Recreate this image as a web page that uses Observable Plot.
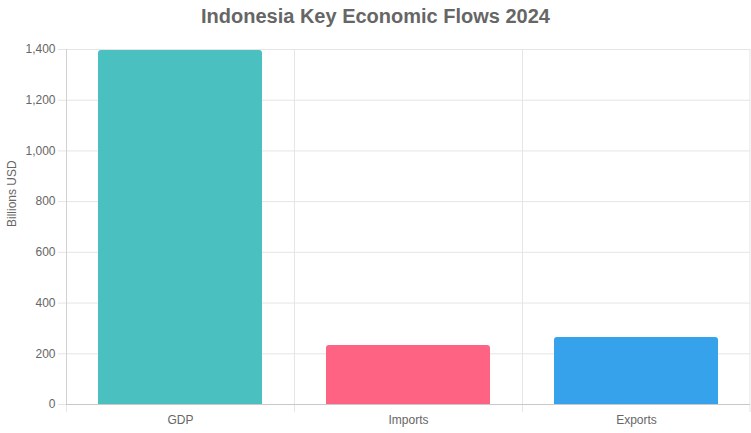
<!DOCTYPE html>
<html>
<head>
<meta charset="utf-8">
<script src="https://cdn.jsdelivr.net/npm/d3@7"></script>
<script src="https://cdn.jsdelivr.net/npm/@observablehq/plot@0.6"></script>
<style>
  html, body { margin: 0; padding: 0; background: #fff; }
  #title { font: bold 20px "Liberation Sans", Arial, sans-serif; height: 40px; line-height: 32px; text-align: center; color: #666; overflow: hidden; }
  svg { display: block; }
</style>
</head>
<body>
<div id="title">Indonesia Key Economic Flows 2024</div>
<div id="chart"></div>
<script>
const categories = ["GDP", "Imports", "Exports"];
const values = [1396, 233, 264];
const colors = ["#4BC0C0", "#FF6384", "#36A2EB"];
const yTicks = [0, 200, 400, 600, 800, 1000, 1200, 1400];
const yLabel = "Billions USD";

const data = categories.map((c, i) => ({category: c, value: values[i], color: colors[i]}));

const W = 751, H = 393, mL = 66, mR = 1, mT = 9, mB = 29;
const step = (W - mL - mR) / categories.length;

const chart = Plot.plot({
  width: W,
  height: H,
  marginLeft: mL,
  marginRight: mR,
  marginTop: mT,
  marginBottom: mB,
  style: {fontFamily: "'Liberation Sans', Arial, sans-serif", fontSize: "12px", color: "#666", background: "#fff"},
  x: {domain: categories, paddingInner: 0.28, paddingOuter: 0.14, axis: null},
  y: {domain: [0, 1400], axis: null},
  marks: [
    Plot.gridY(yTicks, {stroke: "#e5e5e5", strokeOpacity: 1, insetLeft: -8}),
    Plot.ruleX(categories, {x: d => d, dx: -step / 2, stroke: "#e5e5e5", strokeOpacity: 1, insetBottom: -8}),
    Plot.ruleX([categories[categories.length - 1]], {x: d => d, dx: step / 2 - 0.5, stroke: "#e5e5e5", strokeOpacity: 1, insetBottom: -8}),
    Plot.ruleX([categories[0]], {x: d => d, dx: -step / 2, stroke: "#d0d0d0", strokeOpacity: 1}),
    Plot.barY(data, {x: "category", y: "value", fill: "color", ry1: 3}),
    Plot.ruleY([0], {stroke: "#c8c8c8", strokeOpacity: 1}),
    Plot.axisY(yTicks, {tickSize: 0, tickPadding: 11, fill: "#666", fontSize: 12, tickFormat: d3.format(","), label: null}),
    Plot.axisX(categories, {tickSize: 0, tickPadding: 11, fill: "#666", fontSize: 12, label: null}),
    Plot.text([yLabel], {frameAnchor: "left", dx: -54, rotate: -90, fill: "#666", fontSize: 12})
  ]
});
document.getElementById("chart").appendChild(chart);
</script>
</body>
</html>
